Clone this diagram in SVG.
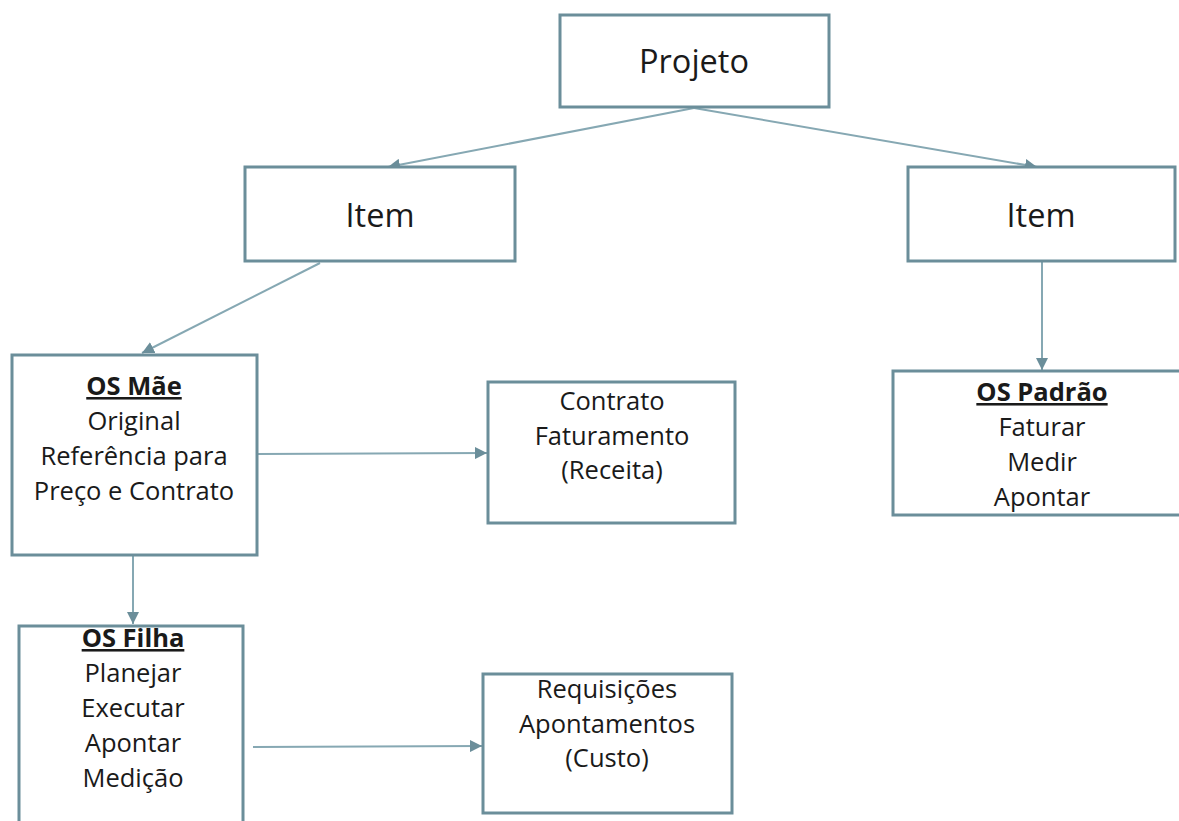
<svg xmlns="http://www.w3.org/2000/svg" width="1179" height="821" viewBox="0 0 1179 821">
<style>
.box{fill:#fff;stroke:#6b8e9a;stroke-width:3}
.t{font-family:"Open Sans","Liberation Sans",sans-serif;fill:#1a1a1a;text-anchor:middle}
.big{font-size:32.5px}
.s{font-size:25.5px}
.b{font-weight:bold;text-decoration:underline}
.c{stroke:#86a8b3;stroke-width:2;fill:none;marker-end:url(#ah)}
</style>
<defs>
<marker id="ah" viewBox="0 0 10 10" refX="10" refY="5" markerWidth="6" markerHeight="6" orient="auto" markerUnits="strokeWidth">
<path d="M0,0 L10,5 L0,10 z" fill="#6b8e9a"/>
</marker>
</defs>
<rect width="1179" height="821" fill="#fff"/>
<g id="connectors">
<line class="c" x1="694" y1="108" x2="388" y2="167"/>
<line class="c" x1="694" y1="108" x2="1037" y2="167"/>
<line class="c" x1="320" y1="263" x2="142" y2="353"/>
<line class="c" x1="1042" y1="262" x2="1042" y2="370"/>
<line class="c" x1="258" y1="454" x2="487" y2="453"/>
<line class="c" x1="133" y1="556" x2="133" y2="624"/>
<line class="c" x1="253" y1="747" x2="482" y2="746"/>
</g>
<g id="projeto">
<rect class="box" x="560" y="15" width="269" height="92"/>
<text class="t big" x="694" y="73">Projeto</text>
</g>
<g id="item-left">
<rect class="box" x="245" y="167" width="270" height="94"/>
<text class="t big" x="380" y="227">Item</text>
</g>
<g id="item-right">
<rect class="box" x="908" y="167" width="267" height="94"/>
<text class="t big" x="1041" y="227">Item</text>
</g>
<g id="os-mae">
<rect class="box" x="12" y="355" width="245" height="200"/>
<text class="t s b" x="134" y="395">OS Mãe</text>
<text class="t s" x="134" y="430">Original</text>
<text class="t s" x="134" y="465">Referência para</text>
<text class="t s" x="134" y="500">Preço e Contrato</text>
</g>
<g id="contrato">
<rect class="box" x="488" y="382" width="247" height="141"/>
<text class="t s" x="612" y="410">Contrato</text>
<text class="t s" x="612" y="445">Faturamento</text>
<text class="t s" x="612" y="479">(Receita)</text>
</g>
<g id="os-padrao">
<rect class="box" x="893" y="371" width="320" height="144"/>
<text class="t s b" x="1042" y="401">OS Padrão</text>
<text class="t s" x="1042" y="436">Faturar</text>
<text class="t s" x="1042" y="471">Medir</text>
<text class="t s" x="1042" y="506">Apontar</text>
</g>
<g id="os-filha">
<rect class="box" x="19" y="626" width="224" height="230"/>
<text class="t s b" x="133" y="647">OS Filha</text>
<text class="t s" x="133" y="682">Planejar</text>
<text class="t s" x="133" y="717">Executar</text>
<text class="t s" x="133" y="752">Apontar</text>
<text class="t s" x="133" y="787">Medição</text>
</g>
<g id="requisicoes">
<rect class="box" x="483" y="674" width="249" height="139"/>
<text class="t s" x="607" y="698">Requisições</text>
<text class="t s" x="607" y="733">Apontamentos</text>
<text class="t s" x="607" y="767">(Custo)</text>
</g>
</svg>
